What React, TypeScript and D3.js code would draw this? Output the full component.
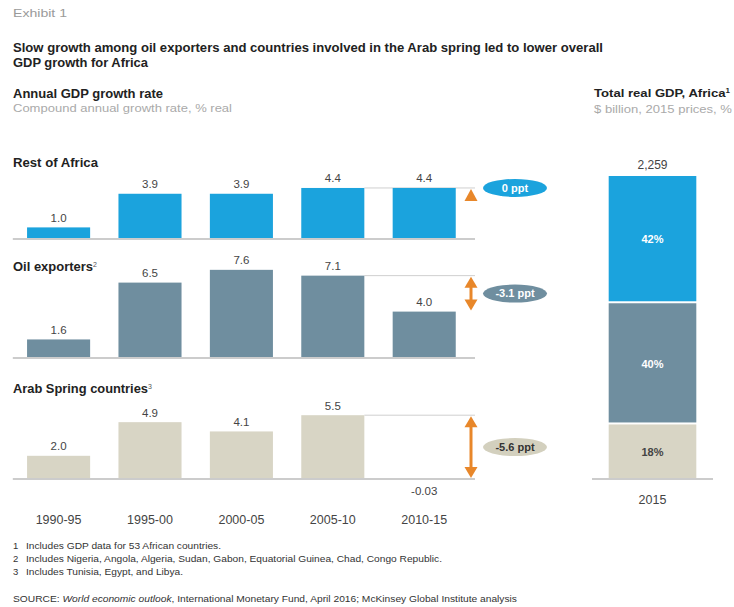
import React from "react";
import * as d3 from "d3";

const periods = ["1990-95", "1995-00", "2000-05", "2005-10", "2010-15"];
const restOfAfrica = [1.0, 3.9, 3.9, 4.4, 4.4];
const oilExporters = [1.6, 6.5, 7.6, 7.1, 4.0];
const arabSpring = [2.0, 4.9, 4.1, 5.5, -0.03];
const panelNames = ["Rest of Africa", "Oil exporters", "Arab Spring countries"];
const panelNotes = ["", "2", "3"];
const changeLabels = ["0 ppt", "-3.1 ppt", "-5.6 ppt"];
const shareGroups = ["Arab Spring countries", "Oil exporters", "Rest of Africa"];
const shareValues = [18, 40, 42];
const totalYear = "2015";
const totalGDP = 2259;
const footnotes = [
  "Includes GDP data for 53 African countries.",
  "Includes Nigeria, Angola, Algeria, Sudan, Gabon, Equatorial Guinea, Chad, Congo Republic.",
  "Includes Tunisia, Egypt, and Libya.",
];

const FONT = "'Liberation Sans', Arial, Helvetica, sans-serif";
const colors = ["#1ba3dd", "#6f8e9f", "#d8d5c5"];
const ovalText = ["#ffffff", "#ffffff", "#333333"];
const ovalFill = ["#1ba3dd", "#6f8e9f", "#d3d0be"];
const ORANGE = "#e8872a";

export default function App() {
  const series = [restOfAfrica, oilExporters, arabSpring];
  const baselines = [239, 358, 479];
  const titleY = [163, 267, 389];
  const titleW = [85, 80, 135];
  const footW = [195, 416, 157];
  const x = d3
    .scaleBand<string>()
    .domain(periods)
    .range([12.8, 470])
    .paddingInner(0.31)
    .paddingOuter(0.156);
  const fmt = (v: number) =>
    (Math.abs(v) < 0.1 ? d3.format(".2f")(v) : d3.format(".1f")(v)).replace("\u2212", "-");
  const arrowX = 471;
  const ovalX = 515;

  const sy = d3.scaleLinear().domain([0, 100]).range([479, 176]);
  const sx = d3.scaleBand<string>().domain([totalYear]).range([592, 713]).padding(0.16);
  let acc = 0;
  const stack = shareValues.map((v, i) => {
    const s = { y0: acc, y1: acc + v, v, name: shareGroups[i] };
    acc += v;
    return s;
  });
  const stackColors: Record<string, string> = {
    "Rest of Africa": colors[0],
    "Oil exporters": colors[1],
    "Arab Spring countries": colors[2],
  };

  return (
    <svg
      width={734}
      height={607}
      style={{ position: "absolute", left: 0, top: 0, background: "#fff" }}
      fontFamily={FONT}
    >
      <text x={13} y={13} dy="0.35em" fontSize={11.5} fill="#9a9a9a" textLength={54} lengthAdjust="spacingAndGlyphs">Exhibit 1</text>
      <text x={13} y={48} dy="0.35em" fontSize={12.5} fontWeight="bold" fill="#222" textLength={590} lengthAdjust="spacingAndGlyphs">
        Slow growth among oil exporters and countries involved in the Arab spring led to lower overall
      </text>
      <text x={13} y={63} dy="0.35em" fontSize={12.5} fontWeight="bold" fill="#222" textLength={135} lengthAdjust="spacingAndGlyphs">GDP growth for Africa</text>
      <text x={13} y={94} dy="0.35em" fontSize={12} fontWeight="bold" fill="#222" textLength={150} lengthAdjust="spacingAndGlyphs">Annual GDP growth rate</text>
      <text x={13} y={108} dy="0.35em" fontSize={11} fill="#aaaaaa" textLength={219} lengthAdjust="spacingAndGlyphs">Compound annual growth rate, % real</text>
      <text x={594} y={93} dy="0.35em" fontSize={11.5} fontWeight="bold" fill="#222" textLength={136} lengthAdjust="spacingAndGlyphs">
        Total real GDP, Africa<tspan fontSize={7} dy="-4">1</tspan>
      </text>
      <text x={594} y={109} dy="0.35em" fontSize={10.5} fill="#aaaaaa" textLength={138} lengthAdjust="spacingAndGlyphs">$ billion, 2015 prices, %</text>

      {series.map((vals, p) => {
        const base = baselines[p];
        const y = d3.scaleLinear().domain([0, 8]).range([base, base - 92.8]);
        const refV = vals[3];
        const lastV = vals[4];
        const yRef = y(refV);
        const yLast = y(Math.max(lastV, 0));
        const mid = (yRef + yLast) / 2;
        const head = 12;
        const hw = 6.5;
        return (
          <g key={p}>
            <text x={13} y={titleY[p]} dy="0.35em" fontSize={12} fontWeight="bold" fill="#222">
              <tspan textLength={titleW[p]} lengthAdjust="spacingAndGlyphs">{panelNames[p]}</tspan>
              {panelNotes[p] && (
                <tspan fontSize={7} fontWeight="normal" fill="#555" dy="-4">{panelNotes[p]}</tspan>
              )}
            </text>
            <line x1={x(periods[3])! + x.bandwidth()} x2={arrowX + 4} y1={yRef} y2={yRef} stroke="#cfcfcf" strokeWidth={1} />
            {vals.map((v, i) => {
              const top = y(Math.max(v, 0));
              const h = Math.abs(y(v) - y(0));
              const cx = x(periods[i])! + x.bandwidth() / 2;
              return (
                <g key={i}>
                  <rect x={x(periods[i])} y={top} width={x.bandwidth()} height={h} fill={colors[p]} />
                  <text
                    x={cx}
                    y={v >= 0 ? top - 9.5 : base + 12}
                    dy="0.35em"
                    textAnchor="middle"
                    fontSize={11.5}
                    fill="#444"
                  >
                    {fmt(v)}
                  </text>
                </g>
              );
            })}
            <line x1={12.8} x2={arrowX + 4} y1={base} y2={base} stroke="#cccccc" strokeWidth={2} />
            {Math.abs(yLast - yRef) < 1 ? (
              <path d={`M${arrowX},${yRef + 1} L${arrowX + hw},${yRef + 13} L${arrowX - hw},${yRef + 13} Z`} fill={ORANGE} />
            ) : (
              <g>
                <line x1={arrowX} x2={arrowX} y1={yRef + head - 1} y2={yLast - head + 1} stroke={ORANGE} strokeWidth={3} />
                <path d={`M${arrowX},${yRef + 1} L${arrowX + hw},${yRef + head} L${arrowX - hw},${yRef + head} Z`} fill={ORANGE} />
                <path d={`M${arrowX},${yLast - 1} L${arrowX + hw},${yLast - head} L${arrowX - hw},${yLast - head} Z`} fill={ORANGE} />
              </g>
            )}
            <ellipse cx={ovalX} cy={mid} rx={32} ry={9} fill={ovalFill[p]} />
            <text x={ovalX} y={mid} dy="0.35em" textAnchor="middle" fontSize={11} fontWeight="bold" fill={ovalText[p]}>
              {changeLabels[p]}
            </text>
          </g>
        );
      })}

      {periods.map((pd) => (
        <text key={pd} x={x(pd)! + x.bandwidth() / 2} y={520} dy="0.35em" textAnchor="middle" fontSize={12.5} fill="#444">
          {pd}
        </text>
      ))}

      {stack.map((s, i) => (
        <g key={s.name}>
          <rect
            x={sx(totalYear)}
            y={sy(s.y1)}
            width={sx.bandwidth()}
            height={sy(s.y0) - sy(s.y1) - (i > 0 ? 2 : 0)}
            fill={stackColors[s.name]}
          />
          <text
            x={sx(totalYear)! + sx.bandwidth() / 2}
            y={(sy(s.y0) + sy(s.y1)) / 2}
            dy="0.35em"
            textAnchor="middle"
            fontSize={11}
            fontWeight="bold"
            fill={s.name === "Arab Spring countries" ? "#444" : "#ffffff"}
          >
            {s.v}%
          </text>
        </g>
      ))}
      <line x1={592} x2={713} y1={479} y2={479} stroke="#cccccc" strokeWidth={2} />
      <text x={sx(totalYear)! + sx.bandwidth() / 2} y={165} dy="0.35em" textAnchor="middle" fontSize={12} fill="#444">
        {d3.format(",")(totalGDP)}
      </text>
      <text x={sx(totalYear)! + sx.bandwidth() / 2} y={500} dy="0.35em" textAnchor="middle" fontSize={12.5} fill="#444">
        {totalYear}
      </text>

      {footnotes.map((f, i) => (
        <g key={i}>
          <text x={13} y={546 + i * 13} dy="0.35em" fontSize={9.5} fill="#333">{i + 1}</text>
          <text x={26} y={546 + i * 13} dy="0.35em" fontSize={9.5} fill="#333" textLength={footW[i]} lengthAdjust="spacingAndGlyphs">{f}</text>
        </g>
      ))}
      <text x={13} y={599} dy="0.35em" fontSize={9.5} fill="#333" textLength={504} lengthAdjust="spacingAndGlyphs">
        SOURCE: <tspan fontStyle="italic">World economic outlook</tspan>, International Monetary Fund, April 2016; McKinsey Global Institute analysis
      </text>
    </svg>
  );
}
